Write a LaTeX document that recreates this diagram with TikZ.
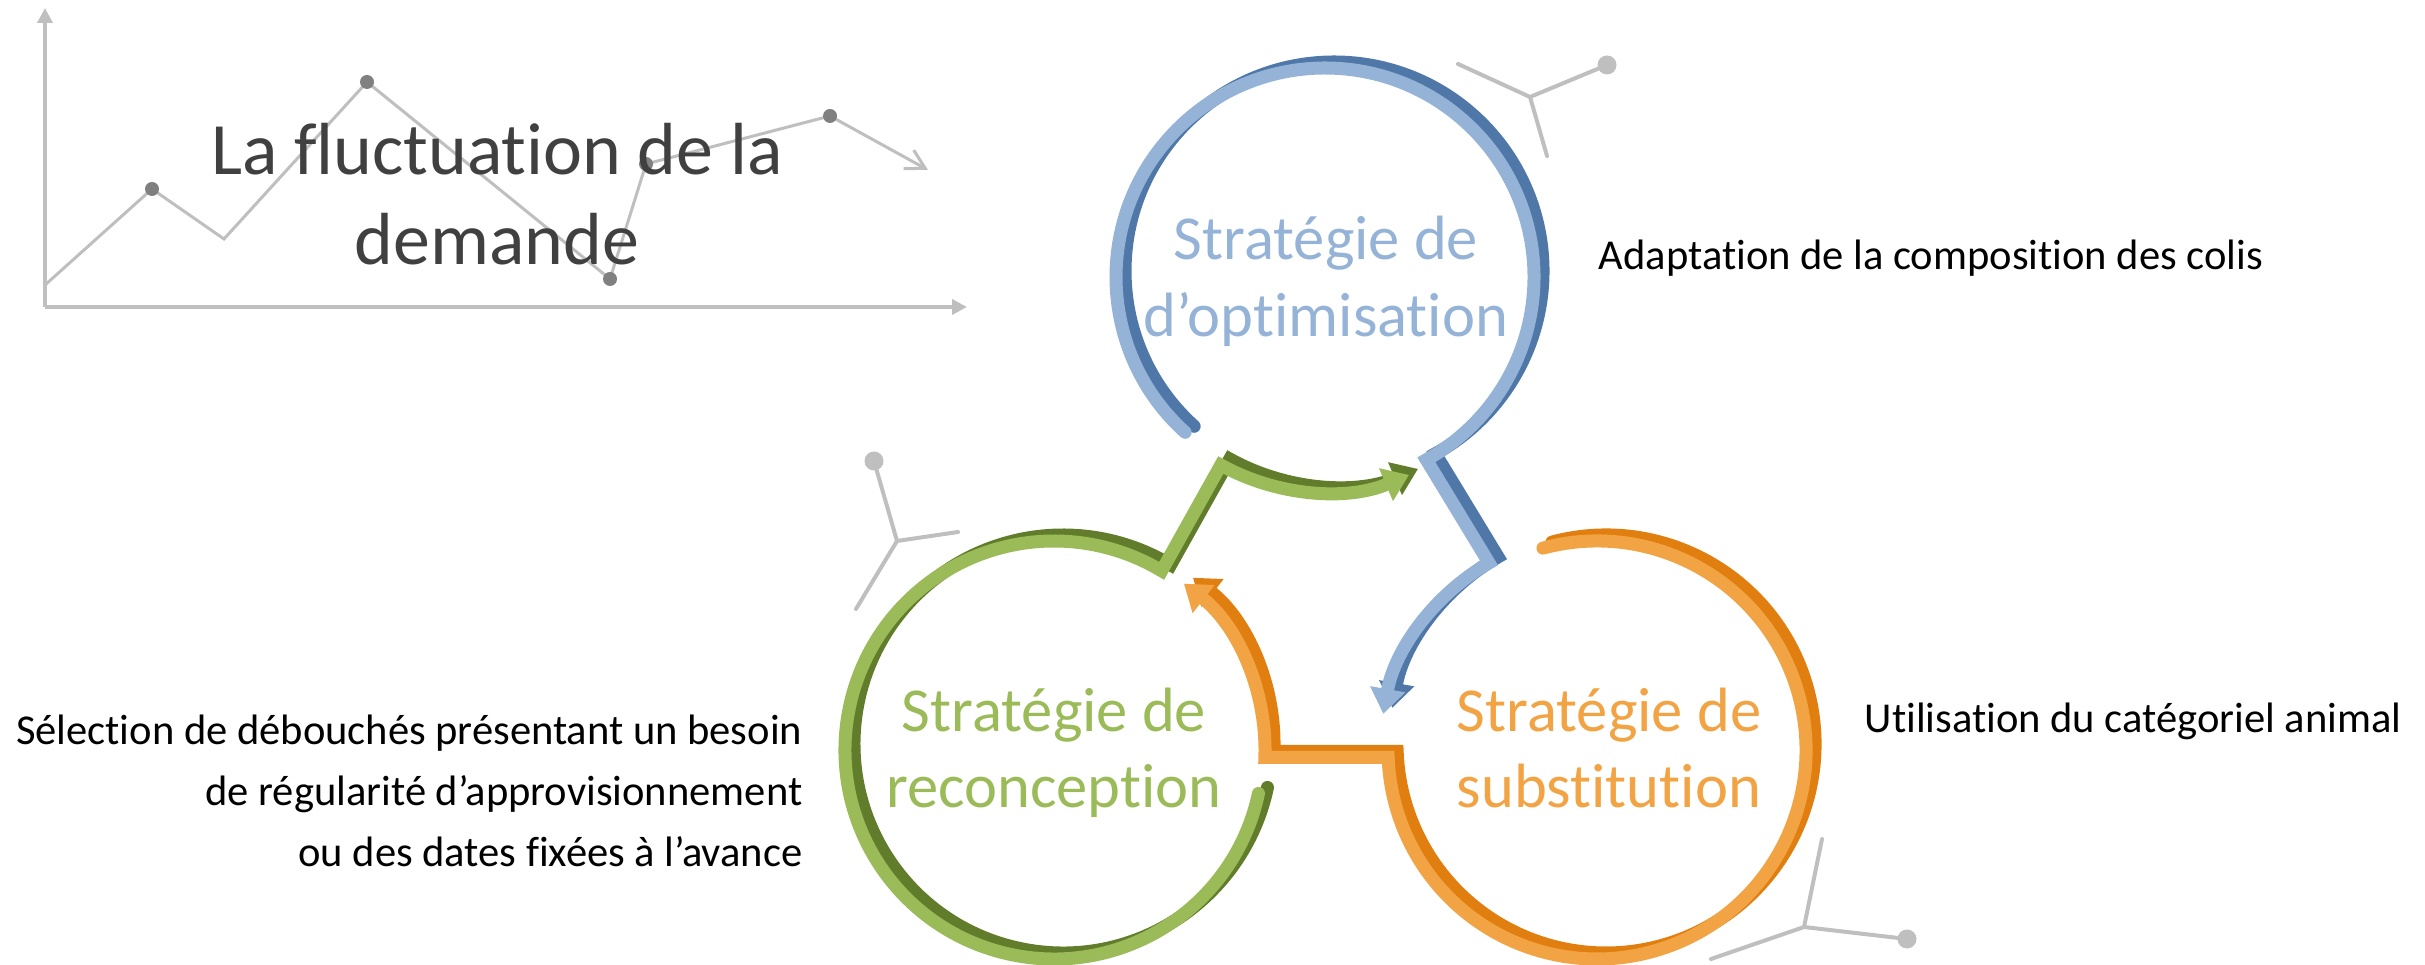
\documentclass[tikz,border=0pt]{standalone}
\usepackage{fontspec}
\setmainfont{Carlito}[Ligatures=NoCommon, RawFeature={-liga;-dlig;-calt}]
\usepackage{xcolor}
\definecolor{optLight}{HTML}{95B3D7}
\definecolor{optDark}{HTML}{4F77A8}
\definecolor{recLight}{HTML}{9BBB59}
\definecolor{recDark}{HTML}{617D2B}
\definecolor{subLight}{HTML}{F2A445}
\definecolor{subDark}{HTML}{E07F10}
\definecolor{chartGray}{HTML}{BFBFBF}
\definecolor{dotGray}{HTML}{808080}
\definecolor{titleText}{HTML}{404040}
\usepackage{tikz}
\usetikzlibrary{
    arrows.meta,
    calc
}
\tikzset{
    % Base style for the three circular arrows
    ring base/.style={
        line width=0.13cm,
        line cap=round,
        line join=miter,
        -{Triangle[length=0.25cm, width=0.34cm]},
    },
    % Darker copy, pushed up and to the right
    ring shadow/.style={
        ring base,
        transform canvas={xshift=0.09cm, yshift=0.06cm},
    },
    % Lighter copy on top
    ring face/.style={
        ring base,
    },
    % Text inside the circles
    ring text/.style={
        font=\fontsize{17.8pt}{21pt}\selectfont,
        anchor=base,
        inner sep=0pt,
    },
    % Notes beside the circles
    side text/.style={
        font=\fontsize{12.1pt}{14pt}\selectfont,
        text=black,
        inner sep=0pt,
    },
    % Title over the small chart
    title text/.style={
        font=\fontsize{21pt}{25pt}\selectfont,
        text=titleText,
        anchor=base,
        inner sep=0pt,
    },
    % Chart axes
    axis/.style={
        draw=chartGray,
        line width=0.04cm,
        -{Triangle[length=0.15cm, width=0.15cm]},
    },
    % Chart curve
    trend/.style={
        draw=chartGray,
        line width=0.03cm,
        line join=miter,
        -{Straight Barb[length=0.19cm, width=0.21cm]},
    },
    % Little molecule shapes
    molecule/.style={
        draw=chartGray,
        line width=0.04cm,
        line cap=round,
    },
}

\begin{document}
\begin{tikzpicture}[x=0.01cm, y=0.01cm]
    \useasboundingbox (0,0) rectangle (2425,-965);

    % circle centres
    \coordinate (copt) at (1325,-277);
    \coordinate (crec) at (1054,-750);
    \coordinate (csub) at (1597,-750);

    % chart behind the title
    \coordinate (origin) at (45,-307);
    \draw[axis] (origin) -- ++(0,299);
    \draw[axis] (origin) -- ++(922,0);
    \draw[trend] (45,-285) -- (152,-189) -- (224,-239) -- (367,-82) -- (610,-279)
        -- (646,-164) -- (830,-116) -- (928,-170);
    \foreach \p in {(152,-189),(367,-82),(610,-279),(646,-164),(830,-116)}
        \fill[dotGray] \p circle[radius=7];

    \node (title1) [title text] at (497,-175) {La fluctuation de la};
    \node (title2) [title text] at (497,-265) {demande};

    % molecules
    \draw[molecule] (1530,-97) -- (1458,-64) (1530,-97) -- (1547,-156) (1530,-97) -- (1607,-65);
    \fill[chartGray] (1607,-65) circle[radius=9.5];
    \draw[molecule] (897,-541) -- (874,-461) (897,-541) -- (958,-532) (897,-541) -- (856,-609);
    \fill[chartGray] (874,-461) circle[radius=9.5];
    \draw[molecule] (1804,-927) -- (1822,-839) (1804,-927) -- (1907,-939) (1804,-927) -- (1711,-959);
    \fill[chartGray] (1907,-939) circle[radius=9.5];

    % circular arrows
    \foreach \layer/\tone in {shadow/Dark, face/Light}{
        \draw[ring \layer, draw=opt\tone] ($(copt)+(228:209)$) arc[start angle=228, end angle=-61, radius=209]
            -- ($(csub)+(120:216)$) arc[start angle=120, end angle=170, radius=218];
        \draw[ring \layer, draw=sub\tone] ($(csub)+(105:209)$) arc[start angle=105, end angle=-178, radius=209]
            -- ($(crec)+(-2:211)$) arc[start angle=-2, end angle=52, radius=211];
        \draw[ring \layer, draw=rec\tone] ($(crec)+(-12:209)$) arc[start angle=-12, end angle=-301, radius=209]
            -- ($(copt)+(241:215)$) arc[start angle=241, end angle=293, radius=215];
    }

    \node (opt1) [ring text, text=optLight] at (1326,-260) {Stratégie de};
    \node (opt2) [ring text, text=optLight] at (1326,-337) {d’optimisation};
    \node (rec1) [ring text, text=recLight] at (1054,-732) {Stratégie de};
    \node (rec2) [ring text, text=recLight] at (1054,-808) {reconception};
    \node (sub1) [ring text, text=subLight] at (1609,-732) {Stratégie de};
    \node (sub2) [ring text, text=subLight] at (1609,-808) {substitution};

    \node (optnote) [side text, anchor=base west] at (1598,-270) {Adaptation de la composition des colis};
    \node (subnote) [side text, anchor=base west] at (1864,-733) {Utilisation du catégoriel animal};
    \node (recnote1) [side text, anchor=base east] at (803,-745) {Sélection de débouchés présentant un besoin};
    \node (recnote2) [side text, anchor=base east] at (803,-806) {de régularité d’approvisionnement};
    \node (recnote3) [side text, anchor=base east] at (803,-867) {ou des dates fixées à l’avance};
\end{tikzpicture}
\end{document}
